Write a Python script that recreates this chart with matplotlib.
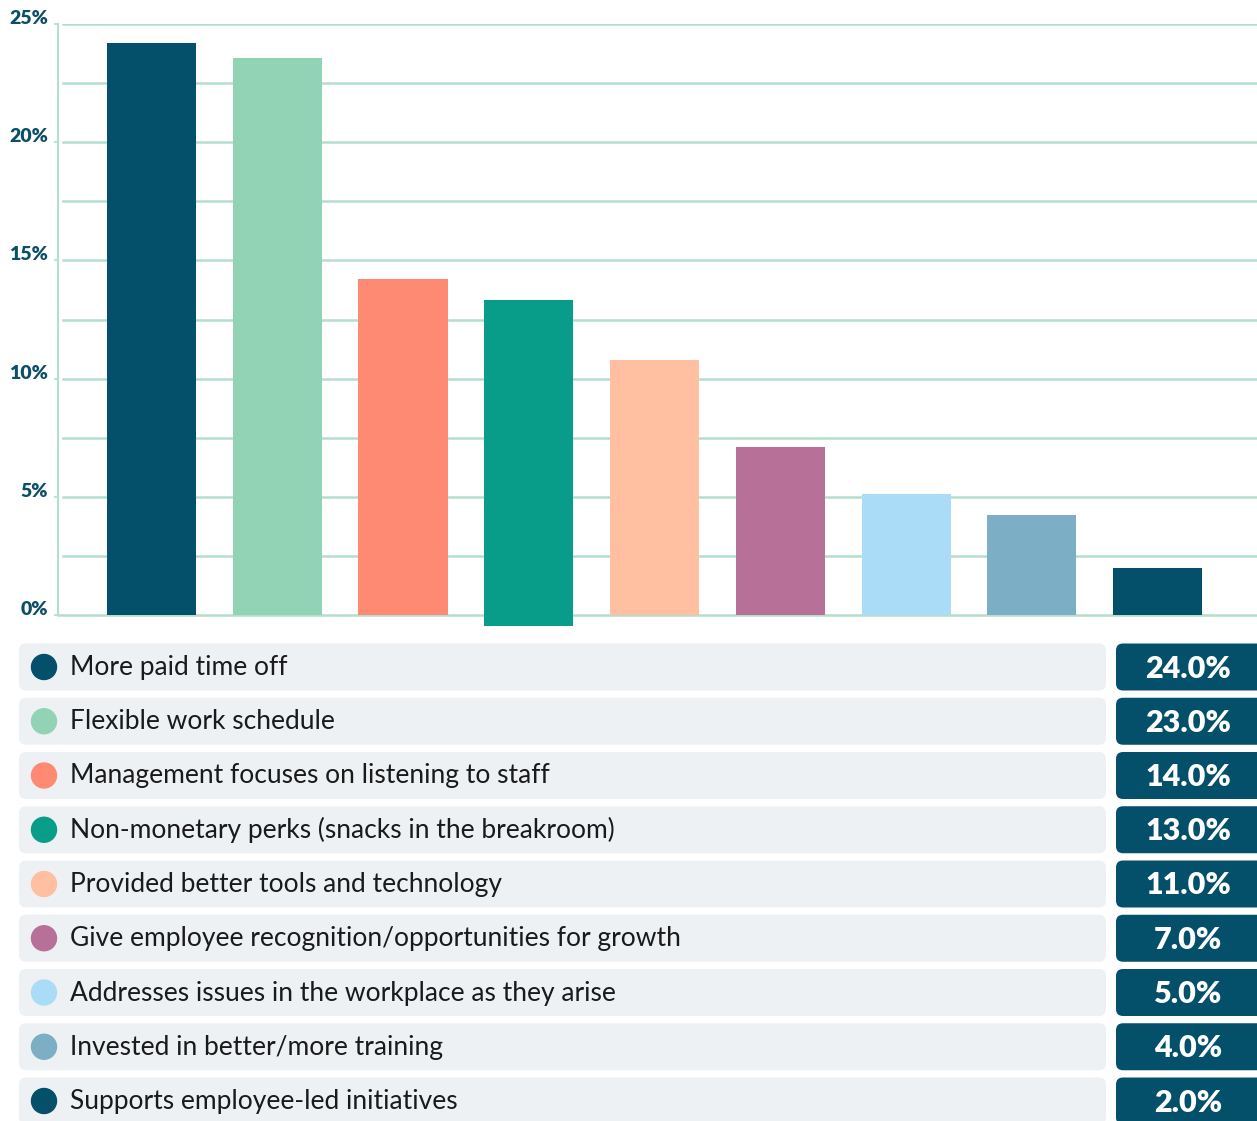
import matplotlib.pyplot as plt
import numpy as np
from matplotlib.patches import FancyBboxPatch

plt.rcParams['font.family'] = ['Lato', 'DejaVu Sans']

# data
categories = [
    'More paid time off',
    'Flexible work schedule',
    'Management focuses on listening to staff',
    'Non-monetary perks (snacks in the breakroom)',
    'Provided better tools and technology',
    'Give employee recognition/opportunities for growth',
    'Addresses issues in the workplace as they arise',
    'Invested in better/more training',
    'Supports employee-led initiatives',
]
bar_values = [24.2, 23.56, 14.21, 13.32, 10.79, 7.11, 5.12, 4.23, 1.99]
value_labels = ['24.0%', '23.0%', '14.0%', '13.0%', '11.0%', '7.0%', '5.0%', '4.0%', '2.0%']
colors = ['#04506A', '#92D3B6', '#FF8A73', '#079D89', '#FFBFA0',
          '#B77098', '#AADCF7', '#7CAFC5', '#04506A']
y_ticks = [0, 5, 10, 15, 20, 25]
y_tick_labels = ['0%', '5%', '10%', '15%', '20%', '25%']

W, H = 1257, 1121
grid_col = '#B4DFCC'
dark = '#04506A'

fig = plt.figure(figsize=(W / 100, H / 100), dpi=100)

# bar chart area (pixel-measured)
ax = fig.add_axes([58 / W, 1 - 615 / H, 1199 / W, 591 / H])
x = np.arange(len(categories))
bottoms = np.zeros(len(categories))
bottoms[3] = -0.45  # hovered bar sits a bit lower in the source
ax.bar(x, np.array(bar_values) - bottoms, bottom=bottoms, width=0.708,
       color=colors, zorder=3, clip_on=False)
ax.set_xlim(-0.7435, 8.791)
ax.set_ylim(0, 25)

for g in np.arange(2.5, 25.1, 2.5):
    ax.axhline(g, xmin=0.004, xmax=1, color=grid_col, lw=1.8, zorder=1)

for s in ['top', 'right']:
    ax.spines[s].set_visible(False)
ax.spines['left'].set_color(grid_col)
ax.spines['left'].set_linewidth(1.5)
ax.spines['bottom'].set_color(grid_col)
ax.spines['bottom'].set_linewidth(1.8)
ax.set_xticks([])
ax.set_yticks(y_ticks)
ax.set_yticklabels(y_tick_labels, fontsize=14, fontweight='heavy', color='#0B4F66',
                   va='baseline')
ax.tick_params(axis='y', length=3, width=1.2, color=grid_col, pad=4)

# legend rows drawn in pixel coordinates
lax = fig.add_axes([0, 0, 1, 1])
lax.set_xlim(0, W)
lax.set_ylim(H, 0)
lax.axis('off')

row_top = 643.5
row_step = 54.25
row_h = 47
for i, (lab, val, c) in enumerate(zip(categories, value_labels, colors)):
    top = row_top + i * row_step
    cy = top + row_h / 2
    lax.add_patch(FancyBboxPatch((19, top), 1087, row_h,
                                 boxstyle='round,pad=0,rounding_size=7',
                                 fc='#EEF1F4', ec='none'))
    lax.add_patch(FancyBboxPatch((1116, top), 160, row_h,
                                 boxstyle='round,pad=0,rounding_size=7',
                                 fc=dark, ec='none', clip_on=True))
    lax.add_patch(plt.Circle((44, cy), 12.5, color=c))
    lax.text(70, cy + 0.5, lab, fontsize=19, color='#1A1A1A', va='center', ha='left')
    lax.text(1188, cy + 1.5, val, fontsize=22, fontweight='heavy', color='white',
             va='center', ha='center')

fig.savefig('out.png', dpi=100)
